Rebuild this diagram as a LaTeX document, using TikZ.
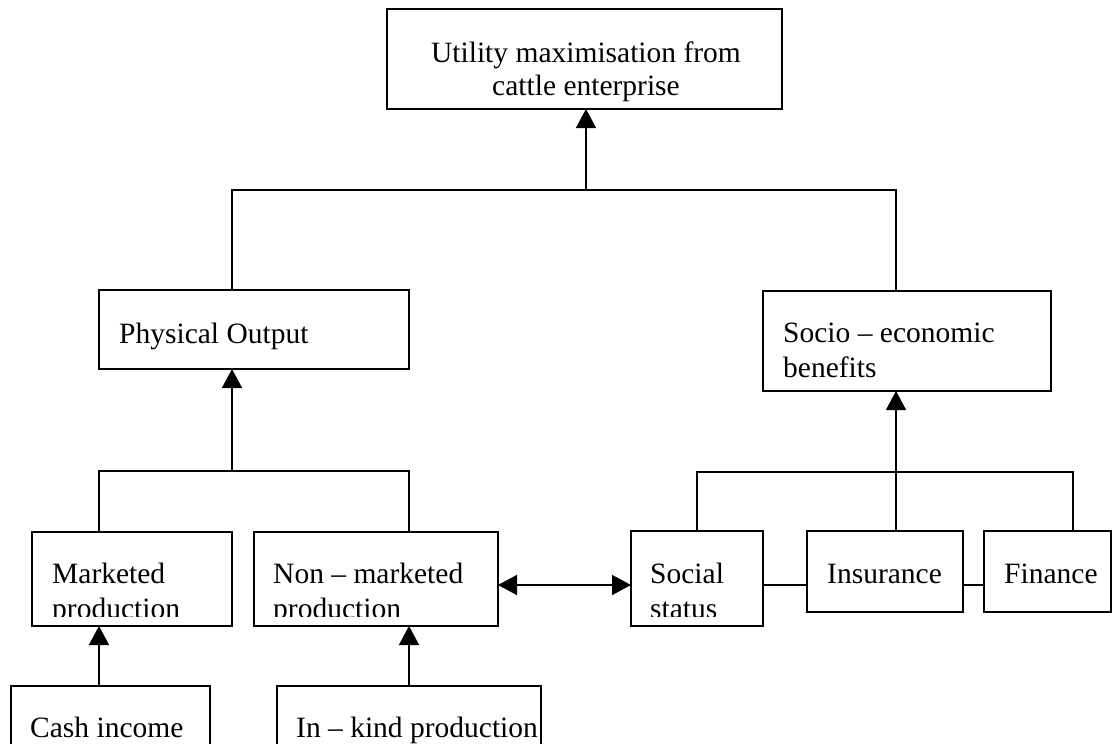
\documentclass[tikz,border=0pt]{standalone}
\usepackage{fontspec}
\setmainfont{Liberation Serif}
\usetikzlibrary{arrows.meta}
\newcommand\mybox[5]{%
  \node[box, minimum width={(#4-#2)*1pt}, minimum height={(#5-#3)*1pt}] (#1) at ({(#2+#4)/2},{(#3+#5)/2}) {};}
\begin{document}
\begin{tikzpicture}[x=1pt,y=-1pt,
  box/.style={draw=black, line width=1.3pt, rectangle, inner sep=0pt, outer sep=0pt},
  txt/.style={inner sep=0pt, font=\fontsize{29.5}{34}\selectfont},
  conn/.style={line width=1.5pt},
  arr/.style={line width=1.5pt, -{Triangle[length=19pt,width=20pt]}},
  darr/.style={line width=1.5pt, {Triangle[length=19pt,width=20pt]}-{Triangle[length=19pt,width=20pt]}}]
\useasboundingbox (0,0) rectangle (1112,744);
\clip (0,0) rectangle (1112,744);

% boxes
\mybox{top}{387}{9}{782}{109}
\mybox{phys}{99}{290}{409}{369}
\mybox{socio}{763}{291}{1051}{391}
\mybox{mkt}{32}{532}{232}{626}
\mybox{nonmkt}{254}{532}{498}{626}
\mybox{social}{631}{531}{763}{626}
\mybox{ins}{807}{531}{963}{612}
\mybox{fin}{984}{531}{1111}{612}
\mybox{cash}{11}{686}{210}{790}
\mybox{inkind}{277}{686}{541}{790}

% texts
\node[txt, anchor=base] (top-a) at (586,62) {Utility maximisation from};
\node[txt, anchor=base] (top-b) at (586,95) {cattle enterprise};
\node[txt, anchor=base west] (phys-a) at (119,343) {Physical Output};
\node[txt, anchor=base west] (socio-a) at (783,342) {Socio – economic};
\node[txt, anchor=base west] (socio-b) at (783,377) {benefits};
\begin{scope}
  \clip (32,532) rectangle (232,616);
  \node[txt, anchor=base west] (mkt-a) at (52,583) {Marketed};
  \node[txt, anchor=base west] (mkt-b) at (52,618) {production};
\end{scope}
\begin{scope}
  \clip (254,532) rectangle (498,616);
  \node[txt, anchor=base west] (nonmkt-a) at (273,583) {Non – marketed};
  \node[txt, anchor=base west] (nonmkt-b) at (273,618) {production};
\end{scope}
\begin{scope}
  \clip (631,531) rectangle (763,616);
  \node[txt, anchor=base west] (social-a) at (650,583) {Social};
  \node[txt, anchor=base west] (social-b) at (650,618) {status};
\end{scope}
\node[txt, anchor=base west] (ins-a) at (827,583) {Insurance};
\node[txt, anchor=base west] (fin-a) at (1004,583) {Finance};
\node[txt, anchor=base west] (cash-a) at (30,737) {Cash income};
\node[txt, anchor=base west] (inkind-a) at (296,737) {In – kind production};

% top tree
\coordinate (tj) at (586,190);
\coordinate (pl) at (232,190);
\coordinate (sr) at (896,190);
\draw[conn] (pl |- phys.north) -- (pl) -- (sr) -- (sr |- socio.north);
\draw[arr] (tj) -- (tj |- top.south);

% physical output tree
\coordinate (pa) at (232,471);
\coordinate (ml) at (99,471);
\coordinate (nr) at (409,471);
\draw[conn] (ml |- mkt.north) -- (ml) -- (nr) -- (nr |- nonmkt.north);
\draw[arr] (pa) -- (pa |- phys.south);

% socio-economic tree
\coordinate (sa) at (896,472);
\coordinate (sl) at (697,472);
\coordinate (fr) at (1073,472);
\draw[conn] (sl |- social.north) -- (sl) -- (fr) -- (fr |- fin.north);
\draw[conn] (sa |- ins.north) -- (sa);
\draw[arr] (sa) -- (sa |- socio.south);

% row links
\coordinate (rowy) at (0,585);
\draw[darr] (nonmkt.east |- rowy) -- (social.west |- rowy);
\draw[conn] (social.east |- rowy) -- (ins.west |- rowy);
\draw[conn] (ins.east |- rowy) -- (fin.west |- rowy);

% bottom arrows
\draw[arr] (ml |- cash.north) -- (ml |- mkt.south);
\draw[arr] (nr |- inkind.north) -- (nr |- nonmkt.south);
\end{tikzpicture}
\end{document}
